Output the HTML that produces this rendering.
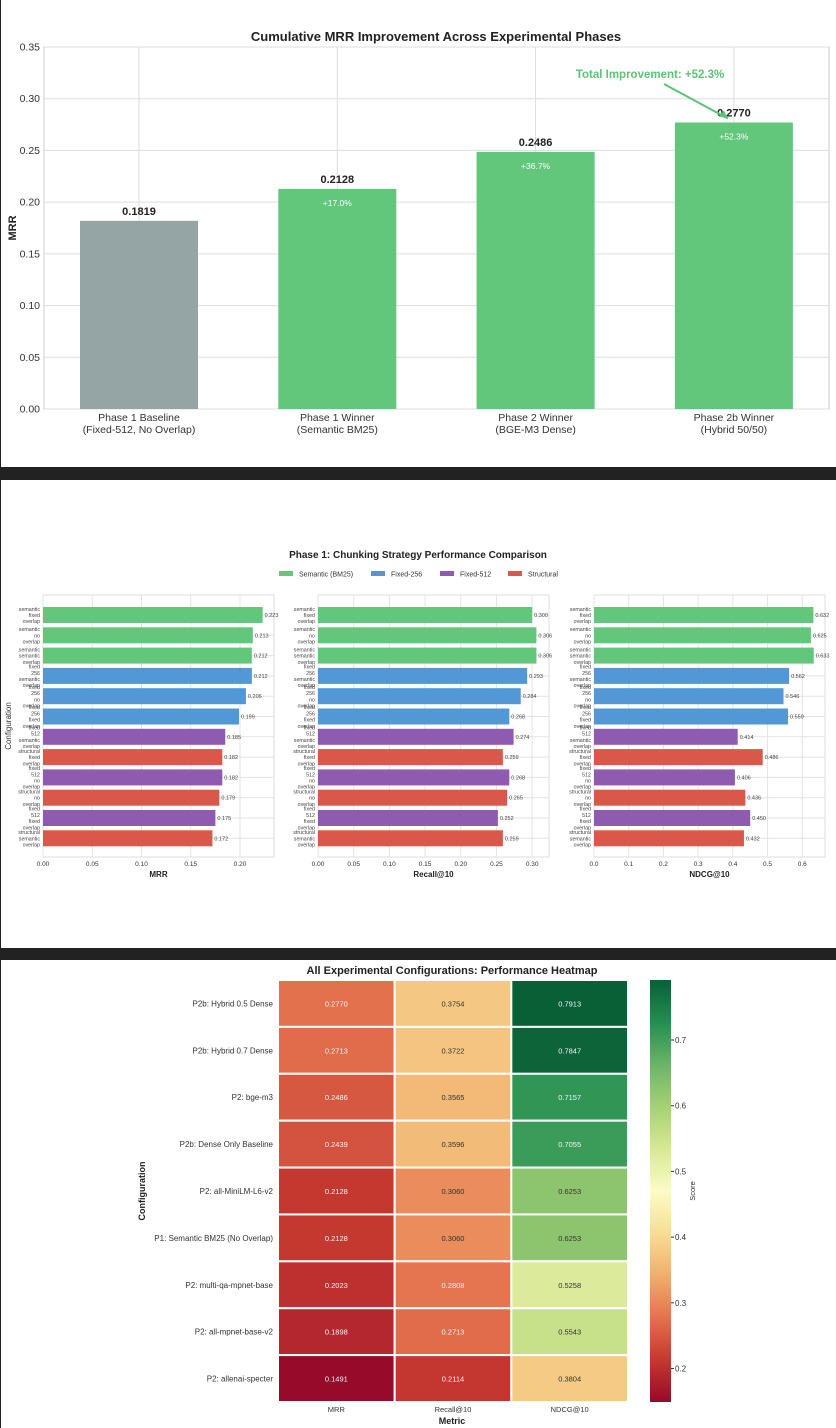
<!DOCTYPE html>
<html><head><meta charset="utf-8"><style>
html,body{margin:0;padding:0;background:#222;}
svg{display:block;font-family:"Liberation Sans",sans-serif;}
</style></head><body>
<svg id="s" width="836" height="1428" viewBox="0 0 836 1428">
<rect x="0" y="0" width="836" height="1428" fill="#222"/>
<rect x="1" y="0" width="835" height="467" fill="#fff"/>
<rect x="1" y="480" width="835" height="468" fill="#fff"/>
<rect x="1" y="960" width="835" height="468" fill="#fff"/>
<g id="g1"></g>
<g id="g2"></g>
<g id="g3"></g>
</svg>
<script>
// ---- Chart 1 data
const phaseLabels1 = ["Phase 1 Baseline", "Phase 1 Winner", "Phase 2 Winner", "Phase 2b Winner"];
const phaseLabels2 = ["(Fixed-512, No Overlap)", "(Semantic BM25)", "(BGE-M3 Dense)", "(Hybrid 50/50)"];
const phaseMRR = [0.1819, 0.2128, 0.2486, 0.2770];
const phasePct = ["", "+17.0%", "+36.7%", "+52.3%"];
const yTicks1 = [0, 0.05, 0.10, 0.15, 0.20, 0.25, 0.30, 0.35];
// ---- Chart 2 data
const configLabels = [["semantic","fixed","overlap"],["semantic","no","overlap"],["semantic","semantic","overlap"],["fixed","256","semantic","overlap"],["fixed","256","no","overlap"],["fixed","256","fixed","overlap"],["fixed","512","semantic","overlap"],["structural","fixed","overlap"],["fixed","512","no","overlap"],["structural","no","overlap"],["fixed","512","fixed","overlap"],["structural","semantic","overlap"]];
const configGroup = [0,0,0,1,1,1,2,3,2,3,2,3];
const mrrVals = [0.223,0.213,0.212,0.212,0.206,0.199,0.185,0.182,0.182,0.179,0.175,0.172];
const recallVals = [0.300,0.306,0.306,0.293,0.284,0.268,0.274,0.259,0.268,0.265,0.252,0.259];
const ndcgVals = [0.632,0.625,0.633,0.562,0.546,0.559,0.414,0.486,0.406,0.436,0.450,0.432];
const groupNames = ["Semantic (BM25)","Fixed-256","Fixed-512","Structural"];
const mrrTicks = [0,0.05,0.10,0.15,0.20];
const recallTicks = [0,0.05,0.10,0.15,0.20,0.25,0.30];
const ndcgTicks = [0,0.1,0.2,0.3,0.4,0.5,0.6];
// ---- Chart 3 data
const heatRows = ["P2b: Hybrid 0.5 Dense","P2b: Hybrid 0.7 Dense","P2: bge-m3","P2b: Dense Only Baseline","P2: all-MiniLM-L6-v2","P1: Semantic BM25 (No Overlap)","P2: multi-qa-mpnet-base","P2: all-mpnet-base-v2","P2: allenai-specter"];
const heatCols = ["MRR","Recall@10","NDCG@10"];
const heatMRR = [0.2770,0.2713,0.2486,0.2439,0.2128,0.2128,0.2023,0.1898,0.1491];
const heatRecall = [0.3754,0.3722,0.3565,0.3596,0.3060,0.3060,0.2808,0.2713,0.2114];
const heatNDCG = [0.7913,0.7847,0.7157,0.7055,0.6253,0.6253,0.5258,0.5543,0.3804];
const cbTicks = [0.2,0.3,0.4,0.5,0.6,0.7];

const NS="http://www.w3.org/2000/svg";
function mk(parent, tag, attrs, text){const e=document.createElementNS(NS,tag);for(const k in attrs)e.setAttribute(k,attrs[k]);if(text!==undefined)e.textContent=text;parent.appendChild(e);return e;}

// ===== Chart 1
(function(){
const g=document.getElementById('g1');
const L=44,R=829,T=47,B=409,ymax=0.35;
const y=v=>B-v/ymax*(B-T);
const xc=i=>139+i*198.3;
const bw=118;
mk(g,'rect',{x:L,y:T,width:R-L,height:B-T,fill:'#fff',stroke:'#ccc','stroke-width':1});
yTicks1.forEach(v=>{
 const l=mk(g,'line',{x1:L,x2:R,y1:y(v),y2:y(v),stroke:'#ddd','stroke-width':1});
 
 const t=mk(g,'text',{x:L-4,y:y(v)+3.5,'text-anchor':'end','font-size':10.5,fill:'#333'},v.toFixed(2));
 
});
phaseMRR.forEach((v,i)=>{
 mk(g,'line',{x1:xc(i),x2:xc(i),y1:T,y2:B,stroke:'#ddd','stroke-width':1});
 const r=mk(g,'rect',{x:xc(i)-bw/2,y:y(v),width:bw,height:B-y(v),fill:i==0?'#95a5a6':'#63c77b'});
 
 const t=mk(g,'text',{x:xc(i),y:y(v)-6,'text-anchor':'middle','font-size':11,'font-weight':'bold',fill:'#222'},v.toFixed(4));
 
 if(phasePct[i]){const p=mk(g,'text',{x:xc(i),y:y(v)+17,'text-anchor':'middle','font-size':8.5,fill:'#fff'},phasePct[i]);
 }
 const a=mk(g,'text',{x:xc(i),y:B+12,'text-anchor':'middle','font-size':10.5,fill:'#333'},phaseLabels1[i]);
 
 const b=mk(g,'text',{x:xc(i),y:B+24,'text-anchor':'middle','font-size':10.5,fill:'#333'},phaseLabels2[i]);
 
});
const tt=mk(g,'text',{x:436,y:41,'text-anchor':'middle','font-size':13,'font-weight':'bold',fill:'#222'},'Cumulative MRR Improvement Across Experimental Phases');

const yl=mk(g,'text',{x:16,y:228,'text-anchor':'middle','font-size':11,'font-weight':'bold',fill:'#222',transform:'rotate(-90 16 228)'},'MRR');

const an=mk(g,'text',{x:650,y:78,'text-anchor':'middle','font-size':11.5,'font-weight':'bold',fill:'#5cc476'},'Total Improvement: +52.3%');

const ax=xc(3)-6, ay=y(phaseMRR[3])-4;
mk(g,'line',{x1:664,y1:84,x2:ax,y2:ay,stroke:'#5cc476','stroke-width':2});
mk(g,'polygon',{points:`${ax},${ay} ${ax-9},${ay-2} ${ax-4},${ay-8}`,fill:'#5cc476'});
})();

// ===== Chart 2
(function(){
const g=document.getElementById('g2');
const colors=['#63c77b','#5297d6','#8f5bb0','#d9584a'];
const t=mk(g,'text',{x:418,y:558,'text-anchor':'middle','font-size':10,'font-weight':'bold',fill:'#222'},'Phase 1: Chunking Strategy Performance Comparison');

const lx=[279,371,440,508];
groupNames.forEach((n,i)=>{
 const r=mk(g,'rect',{x:lx[i],y:571,width:14,height:5,fill:colors[i]});
 
 const tx=mk(g,'text',{x:lx[i]+20,y:576.5,'font-size':7,fill:'#333'},n);
 
});
const T=595,B=857;
const rowY=i=>615+i*20.3;
const panels=[{L:43,R:274,vals:mrrVals,ticks:mrrTicks,max:0.2345,title:'MRR',fmt:2},
 {L:318,R:549,vals:recallVals,ticks:recallTicks,max:0.3236,title:'Recall@10',fmt:2},
 {L:594,R:825,vals:ndcgVals,ticks:ndcgTicks,max:0.6655,title:'NDCG@10',fmt:1}];
panels.forEach((p,pi)=>{
 const x=v=>p.L+v/p.max*(p.R-p.L);
 mk(g,'rect',{x:p.L,y:T,width:p.R-p.L,height:B-T,fill:'#fff',stroke:'#ddd'});
 p.ticks.forEach(v=>{
  mk(g,'line',{x1:x(v),x2:x(v),y1:T,y2:B,stroke:'#e3e3e3'});
  const tl=mk(g,'text',{x:x(v),y:B+9,'text-anchor':'middle','font-size':6.5,fill:'#333'},v.toFixed(p.fmt));
  
 });
 p.vals.forEach((v,i)=>mk(g,'line',{x1:p.L,x2:p.R,y1:rowY(i),y2:rowY(i),stroke:'#e3e3e3'}));
 p.vals.forEach((v,i)=>{
  const r=mk(g,'rect',{x:p.L,y:rowY(i)-8,width:x(v)-p.L,height:16,fill:colors[configGroup[i]]});
  
  const vl=mk(g,'text',{x:x(v)+2,y:rowY(i)+2,'font-size':5.5,fill:'#444'},v.toFixed(3));
  
  const lines=configLabels[i];
  lines.forEach((ln,k)=>{
   const ly=rowY(i)+(k-(lines.length-1)/2)*6.2+2;
   const lt=mk(g,'text',{x:p.L-3,y:ly,'text-anchor':'end','font-size':5.3,fill:'#444'},ln);
   
  });
 });
 const xt=mk(g,'text',{x:(p.L+p.R)/2,y:B+20,'text-anchor':'middle','font-size':8,'font-weight':'bold',fill:'#222'},p.title);
 
});
const yl=mk(g,'text',{x:11,y:726,'text-anchor':'middle','font-size':8,fill:'#333',transform:'rotate(-90 11 726)'},'Configuration');

})();

// ===== Chart 3
(function(){
const g=document.getElementById('g3');
const stops=['#a50026','#d73027','#f46d43','#fdae61','#fee08b','#ffffbf','#d9ef8b','#a6d96a','#66bd63','#1a9850','#006837'];
const vmin=0.1491,vmax=0.7913;
function hex(h){return [1,3,5].map(k=>parseInt(h.substr(k,2),16));}
function cmap(v){let t=(v-vmin)/(vmax-vmin);t=Math.max(0,Math.min(1,t));const f=t*10,i=Math.min(9,Math.floor(f)),u=f-i;
 const a=hex(stops[i]),b=hex(stops[i+1]);const c=a.map((x,k)=>x+(b[k]-x)*u);
 const gray=(c[0]+c[1]+c[2])/3;
 return c.map(x=>Math.round(x*0.85+gray*0.15));}
const L=278,R=628,T=980,B=1402;
const cw=(R-L)/3,rh=(B-T)/9;
const cols=[heatMRR,heatRecall,heatNDCG];
const tt=mk(g,'text',{x:452,y:974,'text-anchor':'middle','font-size':11,'font-weight':'bold',fill:'#222'},'All Experimental Configurations: Performance Heatmap');

heatRows.forEach((rn,r)=>{
 const rl=mk(g,'text',{x:273,y:T+rh*(r+0.5)+3,'text-anchor':'end','font-size':8,fill:'#333'},rn);
 
 cols.forEach((arr,c)=>{
  const v=arr[r];const col=cmap(v);
  const cell=mk(g,'rect',{x:L+c*cw,y:T+r*rh,width:cw,height:rh,fill:`rgb(${col.join(',')})`,stroke:'#fff','stroke-width':2});
  
  const lum=(0.299*col[0]+0.587*col[1]+0.114*col[2]);
  const tx=mk(g,'text',{x:L+(c+0.5)*cw,y:T+(r+0.5)*rh+3,'text-anchor':'middle','font-size':7.5,fill:lum<150?'#f4f4f4':'#333'},v.toFixed(4));
  
 });
});
heatCols.forEach((cn,c)=>{
 const cl=mk(g,'text',{x:L+(c+0.5)*cw,y:1412,'text-anchor':'middle','font-size':7.5,fill:'#333'},cn);
 
});
const xl=mk(g,'text',{x:452,y:1424,'text-anchor':'middle','font-size':9,'font-weight':'bold',fill:'#222'},'Metric');

const yl=mk(g,'text',{x:145,y:1191,'text-anchor':'middle','font-size':9,'font-weight':'bold',fill:'#222',transform:'rotate(-90 145 1191)'},'Configuration');

const defs=mk(g,'defs',{});
const lg=mk(defs,'linearGradient',{id:'cbg',x1:0,y1:1,x2:0,y2:0});
for(let k=0;k<=20;k++){const v=vmin+(vmax-vmin)*k/20;mk(lg,'stop',{offset:(k/20),'stop-color':`rgb(${cmap(v).join(',')})`});}
const cb=mk(g,'rect',{x:650,y:T,width:21,height:B-T,fill:'url(#cbg)'});

const cy=v=>B-(v-vmin)/(vmax-vmin)*(B-T);
cbTicks.forEach(v=>{
 mk(g,'line',{x1:671,x2:674,y1:cy(v),y2:cy(v),stroke:'#333'});
 const t=mk(g,'text',{x:675,y:cy(v)+3,'font-size':8,fill:'#333'},v.toFixed(1));
 
});
const sl=mk(g,'text',{x:695,y:1191,'text-anchor':'middle','font-size':7.5,fill:'#333',transform:'rotate(-90 695 1191)'},'Score');

})();
</script>
</body></html>
